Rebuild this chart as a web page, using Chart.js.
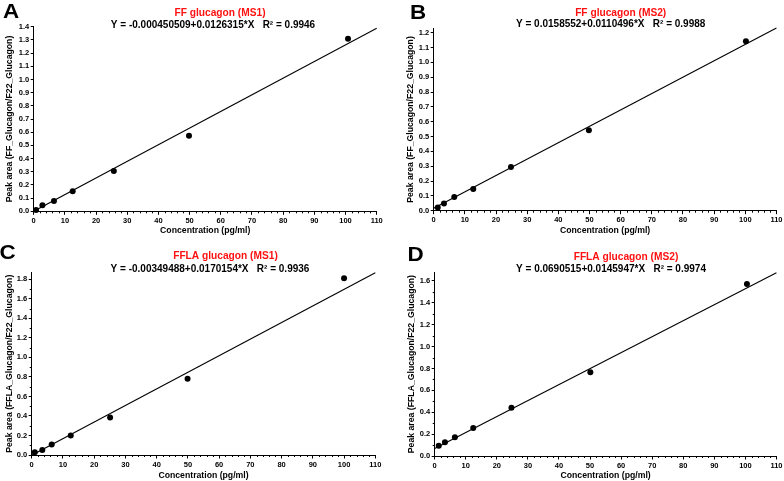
<!DOCTYPE html>
<html><head><meta charset="utf-8">
<script src="https://cdn.jsdelivr.net/npm/chart.js@4/dist/chart.umd.min.js"></script>
<style>
html,body{margin:0;padding:0;background:#fff;}
.p{position:absolute;}
</style></head><body>
<div class="p" style="left:0;top:0;width:392px;height:240px"><canvas id="cA"></canvas></div>
<div class="p" style="left:392px;top:0;width:392px;height:240px"><canvas id="cB"></canvas></div>
<div class="p" style="left:0;top:240px;width:392px;height:241px"><canvas id="cC"></canvas></div>
<div class="p" style="left:392px;top:240px;width:392px;height:241px"><canvas id="cD"></canvas></div>
<script>
// ---- data ----
const concA = [0.75, 2.8, 6.5, 12.5, 25.7, 49.8, 100.8];
const areaA = [0.01, 0.045, 0.078, 0.152, 0.305, 0.573, 1.308];
const concB = [1.3, 3.3, 6.6, 12.7, 24.8, 49.8, 100.2];
const areaB = [0.022, 0.049, 0.092, 0.146, 0.294, 0.542, 1.142];
const concC = [1.0, 3.4, 6.4, 12.5, 25.1, 49.9, 100.0];
const areaC = [0.027, 0.051, 0.108, 0.2, 0.384, 0.782, 1.81];
const concD = [1.3, 3.3, 6.5, 12.4, 24.7, 50.1, 100.5];
const areaD = [0.0945, 0.125, 0.171, 0.256, 0.442, 0.765, 1.573];

// fitted regression lines (endpoints at x = 0 and x = 110)
const fitX  = [0, 110];
const fitYA = [-0.00045, 1.3890];
const fitYB = [0.0159, 1.2313];
const fitYC = [-0.0035, 1.8682];
const fitYD = [0.0691, 1.6745];

// titles / equations
const titles = ['FF glucagon (MS1)', 'FF glucagon (MS2)', 'FFLA glucagon (MS1)', 'FFLA glucagon (MS2)'];
const equations = [
  'Y = -0.000450509+0.0126315*X   R\u00B2 = 0.9946',
  'Y = 0.0158552+0.0110496*X   R\u00B2 = 0.9988',
  'Y = -0.00349488+0.0170154*X   R\u00B2 = 0.9936',
  'Y = 0.0690515+0.0145947*X   R\u00B2 = 0.9974'
];
const letters = ['A', 'B', 'C', 'D'];
const yTitles = [
  'Peak area (FF_Glucagon/F22_Glucagon)',
  'Peak area (FF_Glucagon/F22_Glucagon)',
  'Peak area (FFLA_Glucagon/F22_Glucagon)',
  'Peak area (FFLA_Glucagon/F22_Glucagon)'
];
const xTitle = 'Concentration (pg/ml)';

// tick labels
const xTicks = [0, 10, 20, 30, 40, 50, 60, 70, 80, 90, 100, 110];
const yTicksA = [0, 0.1, 0.2, 0.3, 0.4, 0.5, 0.6, 0.7, 0.8, 0.9, 1.0, 1.1, 1.2, 1.3, 1.4];
const yTicksB = [0, 0.1, 0.2, 0.3, 0.4, 0.5, 0.6, 0.7, 0.8, 0.9, 1.0, 1.1, 1.2];
const yTicksC = [0, 0.2, 0.4, 0.6, 0.8, 1.0, 1.2, 1.4, 1.6, 1.8];
const yTicksD = [0, 0.2, 0.4, 0.6, 0.8, 1.0, 1.2, 1.4, 1.6];
const yMinorC = [0.1, 0.3, 0.5, 0.7, 0.9, 1.1, 1.3, 1.5, 1.7];
const yMinorD = [0.1, 0.3, 0.5, 0.7, 0.9, 1.1, 1.3, 1.5];
const xMinor = [];
for (let v = 2; v < 110; v += 2) { if (v % 10 !== 0) xMinor.push(v); }

const FONT = '"Liberation Sans", Arial, Helvetica, sans-serif';
Chart.defaults.font.family = FONT;
Chart.defaults.color = '#000';

function makeChart(id, k, conc, area, fitY, yTicks, yMinor, L) {
  const panelPlugin = {
    id: 'panel' + k,
    afterDraw(chart) {
      const ctx = chart.ctx;
      const xs = chart.scales.x, ys = chart.scales.y;
      const ca = chart.chartArea;
      ctx.save();
      ctx.strokeStyle = '#000';
      ctx.lineWidth = 1;
      ctx.beginPath();
      xMinor.forEach(v => {
        const px = Math.round(xs.getPixelForValue(v)) + 0.5;
        ctx.moveTo(px, ca.bottom);
        ctx.lineTo(px, ca.bottom + 2);
      });
      yMinor.forEach(v => {
        const py = Math.round(ys.getPixelForValue(v)) + 0.5;
        ctx.moveTo(ca.left - 2, py);
        ctx.lineTo(ca.left, py);
      });
      ctx.stroke();
      // letter
      ctx.fillStyle = '#000';
      ctx.textBaseline = 'alphabetic';
      ctx.textAlign = 'left';
      ctx.font = 'bold 20px ' + FONT;
      ctx.save();
      ctx.translate(L.lx, L.ly);
      ctx.scale(1.12, 1);
      ctx.fillText(letters[k], 0, 0);
      ctx.restore();
      // title + equation
      ctx.textAlign = 'center';
      ctx.font = 'bold 10.2px ' + FONT;
      ctx.fillStyle = '#ff1111';
      ctx.fillText(titles[k], L.tx, L.ty);
      ctx.font = 'bold 10px ' + FONT;
      ctx.fillStyle = '#000';
      ctx.fillText(equations[k], L.ex, L.ey);
      ctx.restore();
    }
  };
  return new Chart(document.getElementById(id), {
    type: 'scatter',
    data: {
      datasets: [
        {
          type: 'line',
          data: fitX.map((x, i) => ({ x: x, y: fitY[i] })),
          borderColor: '#000', borderWidth: 1.1, pointRadius: 0, fill: false,
          tension: 0, clip: false
        },
        {
          type: 'scatter',
          data: conc.map((x, i) => ({ x: x, y: area[i] })),
          pointRadius: 3, pointBackgroundColor: '#000', pointBorderColor: '#000',
          pointBorderWidth: 0, showLine: false, clip: false
        }
      ]
    },
    options: {
      responsive: true,
      maintainAspectRatio: false,
      animation: false,
      events: [],
      layout: { padding: { left: 0, right: L.pr, top: L.pt, bottom: 0 } },
      plugins: { legend: { display: false }, tooltip: { enabled: false }, title: { display: false } },
      scales: {
        x: {
          type: 'linear', min: 0, max: 110,
          afterBuildTicks: s => { s.ticks = xTicks.map(v => ({ value: v })); },
          afterFit: s => { s.height = L.xh; },
          ticks: { font: { size: 7.5, weight: 'bold' }, color: '#000', padding: 1.5, autoSkip: false, maxRotation: 0, callback: v => String(v) },
          grid: { drawOnChartArea: false, tickLength: 3.5, color: '#000', tickColor: '#000', lineWidth: 1 },
          border: { color: '#000', width: 1 },
          title: { display: true, text: xTitle, font: { size: 8.7, weight: 'bold' }, color: '#000', padding: { top: 0, bottom: L.xpb } }
        },
        y: {
          type: 'linear', min: 0, max: L.ymax,
          afterBuildTicks: s => { s.ticks = yTicks.map(v => ({ value: v })); },
          afterFit: s => { s.width = L.yw; },
          ticks: { font: { size: 7.5, weight: 'bold' }, color: '#000', padding: 1.5, autoSkip: false, callback: v => Number(v).toFixed(1) },
          grid: { drawOnChartArea: false, tickLength: 3, color: '#000', tickColor: '#000', lineWidth: 1 },
          border: { color: '#000', width: 1 },
          title: { display: true, text: yTitles[k], font: { size: 8.7, weight: 'bold' }, color: '#000', padding: { top: L.ypt, bottom: 0 } }
        }
      }
    },
    plugins: [panelPlugin]
  });
}

makeChart('cA', 0, concA, areaA, fitYA, yTicksA, [],
  { pt: 26.7, pr: 15.3, yw: 33.7, xh: 28.7, ymax: 1.4, ypt: 4.8, xpb: 3.8,
    lx: 3, ly: 18, tx: 220, ty: 16, ex: 213, ey: 28 });
makeChart('cB', 1, concB, areaB, fitYB, yTicksB, [],
  { pt: 28.3, pr: 7, yw: 41.7, xh: 29.3, ymax: 1.23, ypt: 13.1, xpb: 3.8,
    lx: 18, ly: 18.7, tx: 228.7, ty: 15.7, ex: 218.7, ey: 27.3 });
makeChart('cC', 2, concC, areaC, fitYC, yTicksC, yMinorC,
  { pt: 32.5, pr: 16.7, yw: 31.7, xh: 26, ymax: 1.87, ypt: 4.1, xpb: 0,
    lx: -0.5, ly: 19.3, tx: 225.5, ty: 19.3, ex: 210, ey: 32.3 });
makeChart('cD', 3, concD, areaD, fitYD, yTicksD, yMinorD,
  { pt: 32.2, pr: 6.3, yw: 42.7, xh: 25, ymax: 1.68, ypt: 14.1, xpb: 0,
    lx: 15.5, ly: 21, tx: 234, ty: 20, ex: 219, ey: 31.7 });
</script>
</body></html>
